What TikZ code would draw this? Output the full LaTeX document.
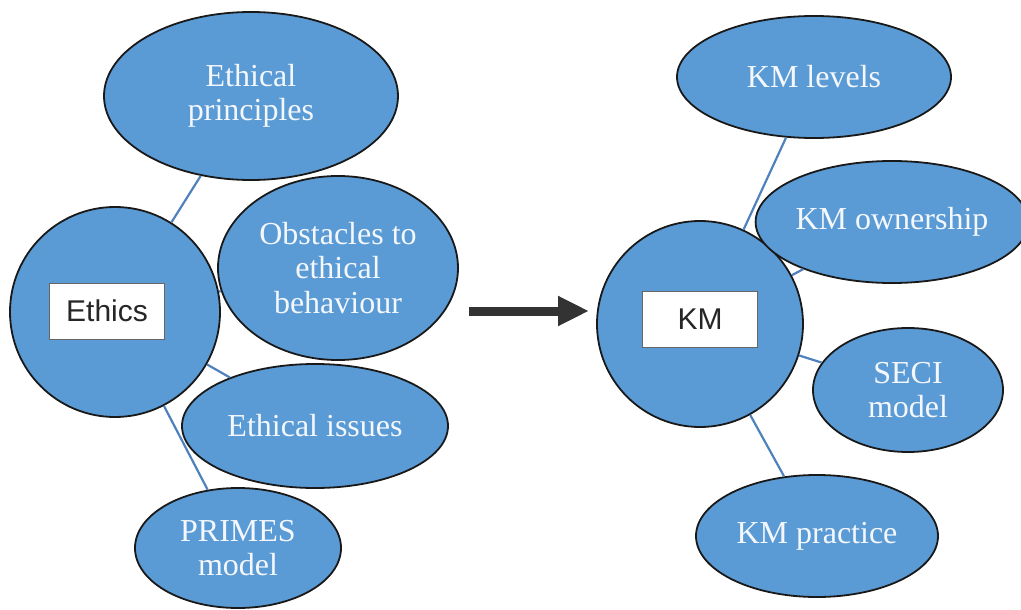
\documentclass[tikz,border=0pt]{standalone}
\usepackage{fontspec}
\setmainfont{Liberation Serif}
\newfontfamily\boxfont{Liberation Sans}
\usetikzlibrary{shapes.geometric,arrows.meta}
\definecolor{bubble}{RGB}{91,155,213}
\definecolor{edgeblue}{RGB}{79,129,189}
\definecolor{arrowgray}{RGB}{51,51,51}
\definecolor{txt}{RGB}{244,247,252}
\tikzset{
  bub/.style={ellipse, draw=black!90, line width=1.8pt, fill=bubble, inner sep=0pt,
    text=txt, align=center, font=\fontsize{32}{34.5}\selectfont},
  hub/.style={circle, draw=black!90, line width=1.8pt, fill=bubble, inner sep=0pt},
  labelbox/.style={draw=black!60, line width=1pt, fill=white, inner sep=0pt,
    font=\boxfont\fontsize{30}{34}\selectfont, text=black!85},
  link/.style={draw=edgeblue, line width=2.2pt},
  bigarrow/.style={draw=arrowgray, line width=9pt, -{Triangle[length=31pt,width=28pt]}}
}
\begin{document}
\begin{tikzpicture}[x=1pt,y=-1pt]
\useasboundingbox (0,0) rectangle (1021,610);
% left cluster
\node[hub, minimum size=210pt] (ethics) at (115,312) {};
\node[bub, minimum width=294pt, minimum height=168pt] (princ) at (251,96) {Ethical\\principles};
\node[bub, minimum width=240pt, minimum height=184pt] (obst) at (338,268) {Obstacles to\\ethical\\behaviour};
\node[bub, minimum width=266pt, minimum height=124pt] (issues) at (315,426) {Ethical issues};
\node[bub, minimum width=206pt, minimum height=120pt] (primes) at (238,548) {PRIMES\\model};
\node[labelbox, minimum width=115pt, minimum height=56pt] (ethicsbox) at (107,311) {Ethics};
% right cluster
\node[hub, minimum size=206pt] (km) at (700,324) {};
\node[bub, minimum width=274pt, minimum height=122pt] (levels) at (814,77) {KM levels};
\node[bub, minimum width=256pt, minimum height=122pt] (owner) at (892,222) {KM ownership};
\node[bub, minimum width=190pt, minimum height=124pt] (seci) at (908,390) {SECI\\model};
\node[bub, minimum width=242pt, minimum height=122pt] (practice) at (817,536) {KM practice};
\node[labelbox, minimum width=115pt, minimum height=56pt] (kmbox) at (700,319) {KM};
% connectors
\draw[link] (ethics) -- (princ);
\draw[link] (ethics) -- (obst);
\draw[link] (ethics) -- (issues);
\draw[link] (ethics) -- (primes);
\draw[link] (km) -- (levels);
\draw[link] (km) -- (owner);
\draw[link] (km) -- (seci);
\draw[link] (km) -- (practice);
% arrow
\coordinate (arrstart) at (469,311);
\coordinate (arrend) at (589,311);
\draw[bigarrow] (arrstart) -- (arrend);
\end{tikzpicture}
\end{document}
